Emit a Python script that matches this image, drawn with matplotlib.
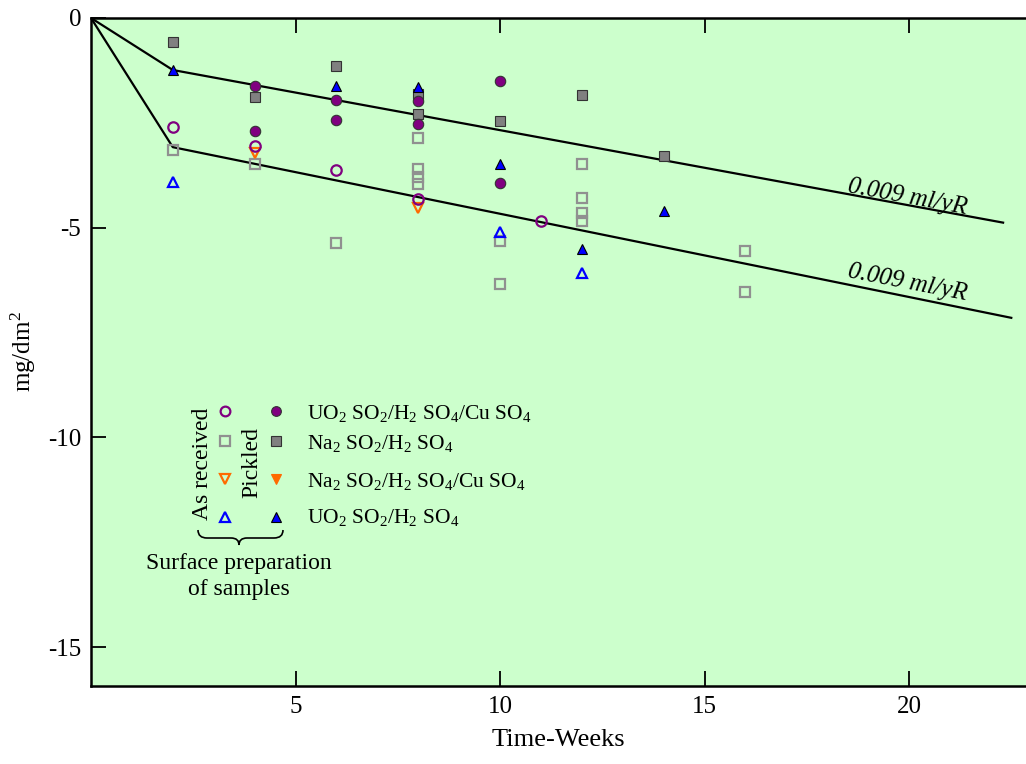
import matplotlib
matplotlib.use("Agg")
from matplotlib import pyplot as plt
from matplotlib.path import Path
from matplotlib.patches import PathPatch
from matplotlib.lines import Line2D
from matplotlib.transforms import Affine2D

plt.rcParams['font.family'] = ['Liberation Serif', 'DejaVu Serif']
plt.rcParams['mathtext.fontset'] = 'custom'
plt.rcParams['mathtext.rm'] = 'Liberation Serif'
plt.rcParams['mathtext.it'] = 'Liberation Serif:italic'

# as received (open) / pickled (filled) series
ar_circ_x = [2, 4, 6, 8, 11]
ar_circ_y = [-2.60, -3.05, -3.62, -4.32, -4.84]
pk_circ_x = [4, 4, 6, 6, 8, 8, 10, 10]
pk_circ_y = [-1.62, -2.70, -1.96, -2.43, -1.98, -2.53, -1.50, -3.93]

ar_sq_x = [2, 4, 6, 8, 8, 8, 8, 10, 10, 12, 12, 12, 12, 16, 16]
ar_sq_y = [-3.15, -3.48, -5.37, -2.86, -3.60, -3.78, -3.96, -5.32, -6.34,
           -3.48, -4.29, -4.66, -4.84, -5.56, -6.53]
pk_sq_x = [2, 4, 6, 8, 8, 10, 12, 14]
pk_sq_y = [-0.57, -1.88, -1.14, -1.82, -2.29, -2.46, -1.84, -3.29]

ar_tdn_x = [4, 8]
ar_tdn_y = [-3.22, -4.52]

ar_tup_x = [2, 10, 12]
ar_tup_y = [-3.90, -5.10, -6.08]
pk_tup_x = [2, 6, 8, 10, 12, 14]
pk_tup_y = [-1.24, -1.61, -1.65, -3.48, -5.51, -4.60]

# fitted rate lines
upper_x = [0, 2, 22.3]
upper_y = [0, -1.24, -4.88]
lower_x = [0, 2, 22.5]
lower_y = [0, -3.08, -7.15]

rate_label = "0.009 ml/yR"
legend_labels = [r"UO$_2$ SO$_2$/H$_2$ SO$_4$/Cu SO$_4$",
                 r"Na$_2$ SO$_2$/H$_2$ SO$_4$",
                 r"Na$_2$ SO$_2$/H$_2$ SO$_4$/Cu SO$_4$",
                 r"UO$_2$ SO$_2$/H$_2$ SO$_4$"]

purple = '#800080'
gray = '#808080'
lgray = '#909090'
orange = '#ff6a00'
blue = '#0000ff'
green_bg = '#ccffcc'

W, H = 1026, 764
fig = plt.figure(figsize=(W / 100, H / 100), dpi=100)
ax = fig.add_axes([91 / W, (H - 686) / H, 935 / W, 668 / H])
ax.set_facecolor(green_bg)
# pixel coordinates -> figure
px = Affine2D().scale(1 / W, -1 / H).translate(0, 1) + fig.transFigure

ax.plot(upper_x, upper_y, color='black', lw=1.6, zorder=2)
ax.plot(lower_x, lower_y, color='black', lw=1.6, zorder=2)

ms = 7.5
ax.plot(ar_sq_x, ar_sq_y, 's', ms=ms, mfc='none', mec=lgray, mew=1.6, zorder=3)
ax.plot(pk_sq_x, pk_sq_y, 's', ms=ms, mfc=gray, mec='#333333', mew=0.8, zorder=3)
ax.plot(ar_tdn_x, ar_tdn_y, 'v', ms=ms, mfc='none', mec=orange, mew=1.6, zorder=4)
ax.plot(ar_circ_x, ar_circ_y, 'o', ms=ms, mfc='none', mec=purple, mew=1.6, zorder=5)
ax.plot(pk_circ_x, pk_circ_y, 'o', ms=ms, mfc=purple, mec='#333333', mew=0.8, zorder=5)
ax.plot(ar_tup_x, ar_tup_y, '^', ms=ms, mfc='none', mec=blue, mew=1.6, zorder=6)
ax.plot(pk_tup_x, pk_tup_y, '^', ms=ms, mfc=blue, mec='black', mew=0.8, zorder=6)

ax.text(907, 197, rate_label, transform=px, fontsize=18, style='italic',
        rotation=-10.5, ha='center', va='center', rotation_mode='anchor')
ax.text(907, 283, rate_label, transform=px, fontsize=18, style='italic',
        rotation=-11, ha='center', va='center', rotation_mode='anchor')

ax.set_xlim(0, 22.86)
ax.set_ylim(-15.93, 0)
ax.set_xticks([5, 10, 15, 20])
ax.set_yticks([0, -5, -10, -15])
ax.set_yticklabels(['0', '-5', '-10', '-15'])
ax.tick_params(direction='in', length=11, width=1.3, labelsize=18,
               top=True, pad=7)
for s in ['left', 'bottom', 'top']:
    ax.spines[s].set_linewidth(1.8)
ax.spines['right'].set_visible(False)
ax.set_xlabel('Time-Weeks', fontsize=19, labelpad=8)
ax.set_ylabel('mg/dm$^2$', fontsize=18)
ax.yaxis.set_label_coords(-0.057, 0.50)

# hand-made legend
rows = [411, 441, 479, 517]
base = [419, 449, 487, 523]
open_style = [('o', purple), ('s', lgray), ('v', orange), ('^', blue)]
fill_style = [('o', purple, '#333333'), ('s', gray, '#333333'),
              ('v', orange, orange), ('^', blue, 'black')]
for i in range(4):
    m, c = open_style[i]
    fig.add_artist(Line2D([225], [rows[i]], transform=px, marker=m, ms=7,
                          mfc='none', mec=c, mew=1.6, ls='none'))
    m, c, e = fill_style[i]
    fig.add_artist(Line2D([276], [rows[i]], transform=px, marker=m, ms=7,
                          mfc=c, mec=e, mew=0.8, ls='none'))
    fig.text(307, base[i], legend_labels[i], transform=px, fontsize=15.5,
             ha='left', va='baseline')

fig.text(203, 464, 'As received', transform=px, fontsize=17, rotation=90,
         ha='center', va='center')
fig.text(252, 463, 'Pickled', transform=px, fontsize=17, rotation=90,
         ha='center', va='center')

brace = Path([(198, 530), (198, 538), (207, 538),
              (231, 538), (239, 538), (239, 545),
              (239, 538), (247, 538), (274, 538),
              (283, 538), (283, 530)],
             [Path.MOVETO, Path.CURVE3, Path.CURVE3,
              Path.LINETO, Path.CURVE3, Path.CURVE3,
              Path.CURVE3, Path.CURVE3, Path.LINETO,
              Path.CURVE3, Path.CURVE3])
fig.add_artist(PathPatch(brace, transform=px, fill=False, lw=1.2, ec='black'))

fig.text(239, 569, 'Surface preparation', transform=px, fontsize=17,
         ha='center', va='baseline')
fig.text(239, 595, 'of samples', transform=px, fontsize=17,
         ha='center', va='baseline')

fig.savefig('out.png', dpi=100)
